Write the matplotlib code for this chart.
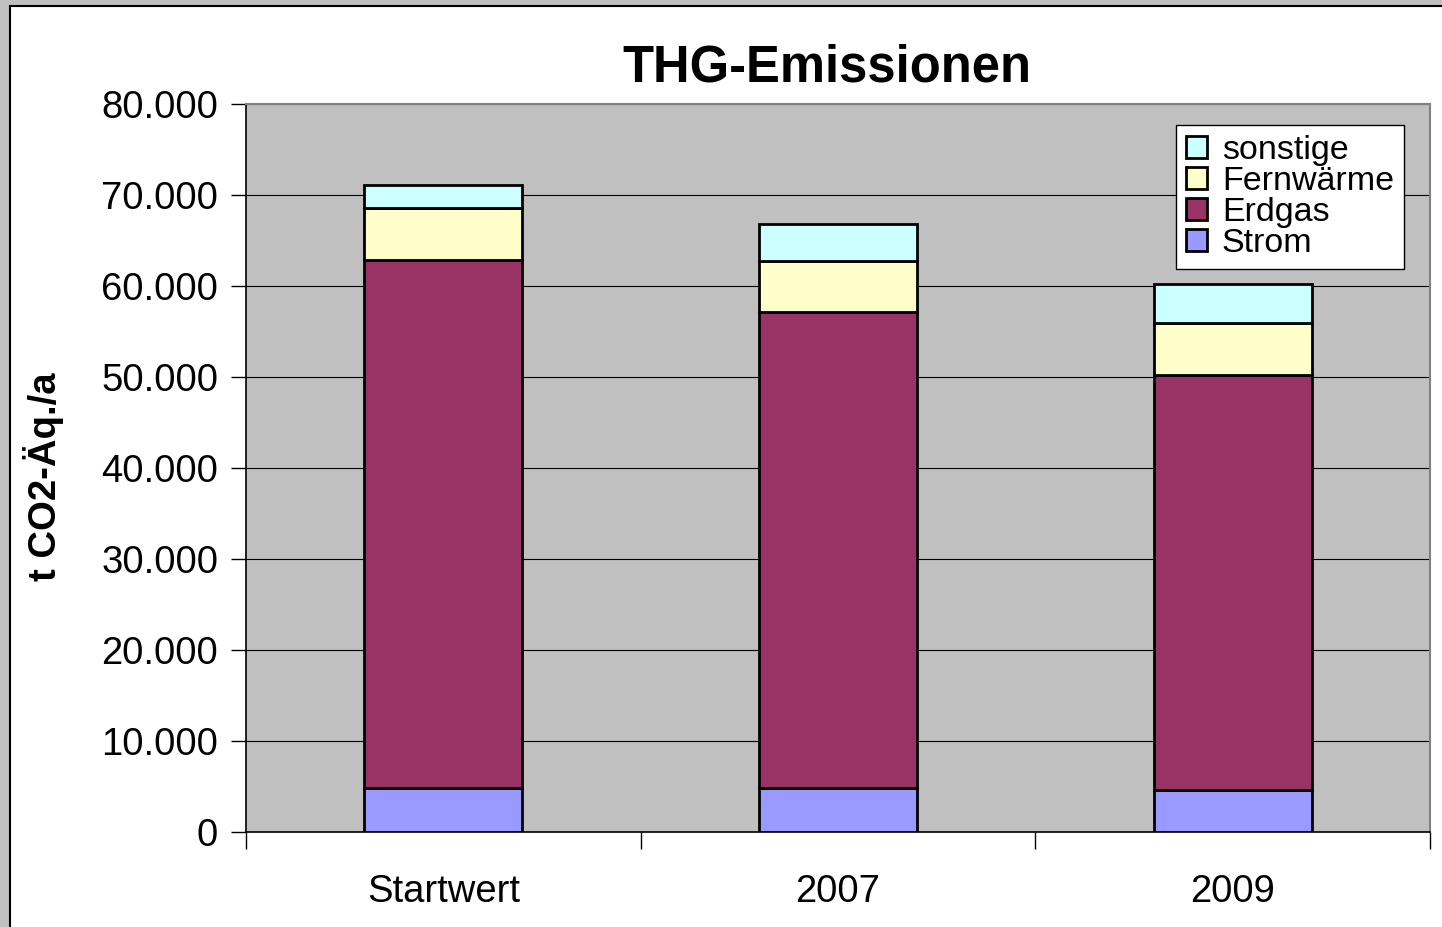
import matplotlib
matplotlib.use("Agg")
import matplotlib.pyplot as plt
from matplotlib.patches import Rectangle
from matplotlib.ticker import FuncFormatter, FixedLocator
import numpy as np

plt.rcParams['font.family'] = ['Liberation Sans', 'DejaVu Sans']

categories = ["Startwert", "2007", "2009"]
series_names = ["Strom", "Erdgas", "Fernwärme", "sonstige"]
strom = [4800, 4800, 4600]
erdgas = [58100, 52300, 45600]
fernwaerme = [5700, 5700, 5700]
sonstige = [2500, 4000, 4300]
colors = ["#9999FF", "#993366", "#FFFFCC", "#CCFFFF"]
y_ticks = [0, 10000, 20000, 30000, 40000, 50000, 60000, 70000, 80000]

W, H = 1442, 927
fig = plt.figure(figsize=(W / 100, H / 100), dpi=100)
fig.patch.set_facecolor("#C0C0C0")
fig.patches.append(Rectangle((10 / W, -0.05), 1.1, (927 - 6) / H + 0.05,
                             transform=fig.transFigure, facecolor="white",
                             edgecolor="black", linewidth=1.5, zorder=-10))

ax = fig.add_axes([246 / W, (H - 832) / H, (1430 - 246) / W, (832 - 104) / H])
ax.set_facecolor("#C0C0C0")

x = np.arange(len(categories))
bottom = np.zeros(len(categories))
handles = []
for name, vals, c in zip(series_names, [strom, erdgas, fernwaerme, sonstige], colors):
    b = ax.bar(x, vals, width=0.4, bottom=bottom, color=c, edgecolor="black",
               linewidth=2.0, label=name, zorder=3)
    handles.append(b)
    bottom += np.array(vals)

ax.set_xlim(-0.5, 2.5)
ax.set_ylim(0, 80000)
ax.yaxis.set_major_locator(FixedLocator(y_ticks))
ax.yaxis.set_major_formatter(FuncFormatter(lambda v, p: f"{int(v):,}".replace(",", ".")))
ax.grid(axis="y", color="black", linewidth=0.8, zorder=1)
ax.set_axisbelow(True)

ax.set_xticks(x)
ax.set_xticklabels(categories, fontsize=27.5)
ax.tick_params(axis="x", length=0, pad=30)
ax.xaxis.set_minor_locator(FixedLocator([-0.5, 0.5, 1.5, 2.5]))
ax.tick_params(axis="x", which="minor", length=12, width=1, direction="out", color="black")
ax.tick_params(axis="y", labelsize=27.5, length=11, width=1, direction="out", pad=9)

for s in ["left", "bottom"]:
    ax.spines[s].set_color("black")
    ax.spines[s].set_linewidth(1.2)
for s in ["top", "right"]:
    ax.spines[s].set_color("#808080")
    ax.spines[s].set_linewidth(1.5)

fig.text(44 / W, 1 - 477 / H, "t CO2-Äq./a", fontsize=27.5, fontweight="bold",
         rotation=90, ha="center", va="center")

fig.text(827 / W, 1 - 68 / H, "THG-Emissionen", fontsize=36.5, fontweight="bold",
         ha="center", va="center")

leg = ax.legend(handles[::-1], series_names[::-1], loc="upper left",
                bbox_to_anchor=((1176 - 246) / (1430 - 246), (832 - 125) / (832 - 104)),
                fontsize=24.5, frameon=True, fancybox=False, edgecolor="black",
                framealpha=1, handlelength=0.6, handleheight=0.6, handletextpad=0.45,
                labelspacing=0.0, borderpad=0.3, borderaxespad=0)
leg.get_frame().set_linewidth(1.0)
leg._legend_box.align = "left"
for h in leg.legend_handles:
    h.set_linewidth(2.0)

fig.savefig("out.png", dpi=100, facecolor=fig.get_facecolor())
